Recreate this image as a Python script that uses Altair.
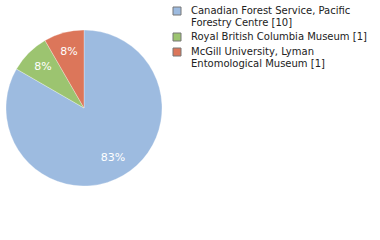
import altair as alt
import pandas as pd

categories = [
    "Canadian Forest Service, Pacific Forestry Centre [10]",
    "Royal British Columbia Museum [1]",
    "McGill University, Lyman Entomological Museum [1]",
]
legend_lines = [
    "Canadian Forest Service, Pacific|Forestry Centre [10]",
    "Royal British Columbia Museum [1]",
    "McGill University, Lyman|Entomological Museum [1]",
]
counts = [10, 1, 1]
pct_labels = ["83%", "8%", "8%"]
colors = ["#9dbbe0", "#9cc470", "#dc765a"]

df = pd.DataFrame({
    "cat": legend_lines,
    "count": counts,
    "pct": pct_labels,
    "idx": list(range(len(counts))),
})

base = alt.Chart(df).encode(
    theta=alt.Theta("count:Q", stack=True),
    order=alt.Order("idx:Q"),
)

pie = base.mark_arc(radius=78, stroke="white", strokeWidth=0.3).encode(
    color=alt.Color(
        "cat:N",
        sort=legend_lines,
        scale=alt.Scale(domain=legend_lines, range=colors),
        legend=alt.Legend(
            title=None,
            orient="none",
            legendX=172,
            legendY=6,
            labelExpr="split(datum.label, '|')",
            labelFont="DejaVu Sans",
            labelFontSize=10,
            labelColor="#222222",
            labelLimit=300,
            symbolType="square",
            symbolSize=64,
            symbolStrokeColor="#777777",
            symbolStrokeWidth=1,
            rowPadding=3,
            labelOffset=9,
        ),
    )
)

text = base.mark_text(
    radius=58, color="white", font="DejaVu Sans", fontSize=11
).encode(text="pct:N")

chart = (pie + text).properties(
    width=168,
    height=216,
    padding={"left": 0, "top": 0, "right": 212, "bottom": 24},
    autosize=alt.AutoSizeParams(type="none"),
    background="white",
).configure_view(stroke=None)

chart.save("out.html", embed_options={"renderer": "svg", "actions": False})
